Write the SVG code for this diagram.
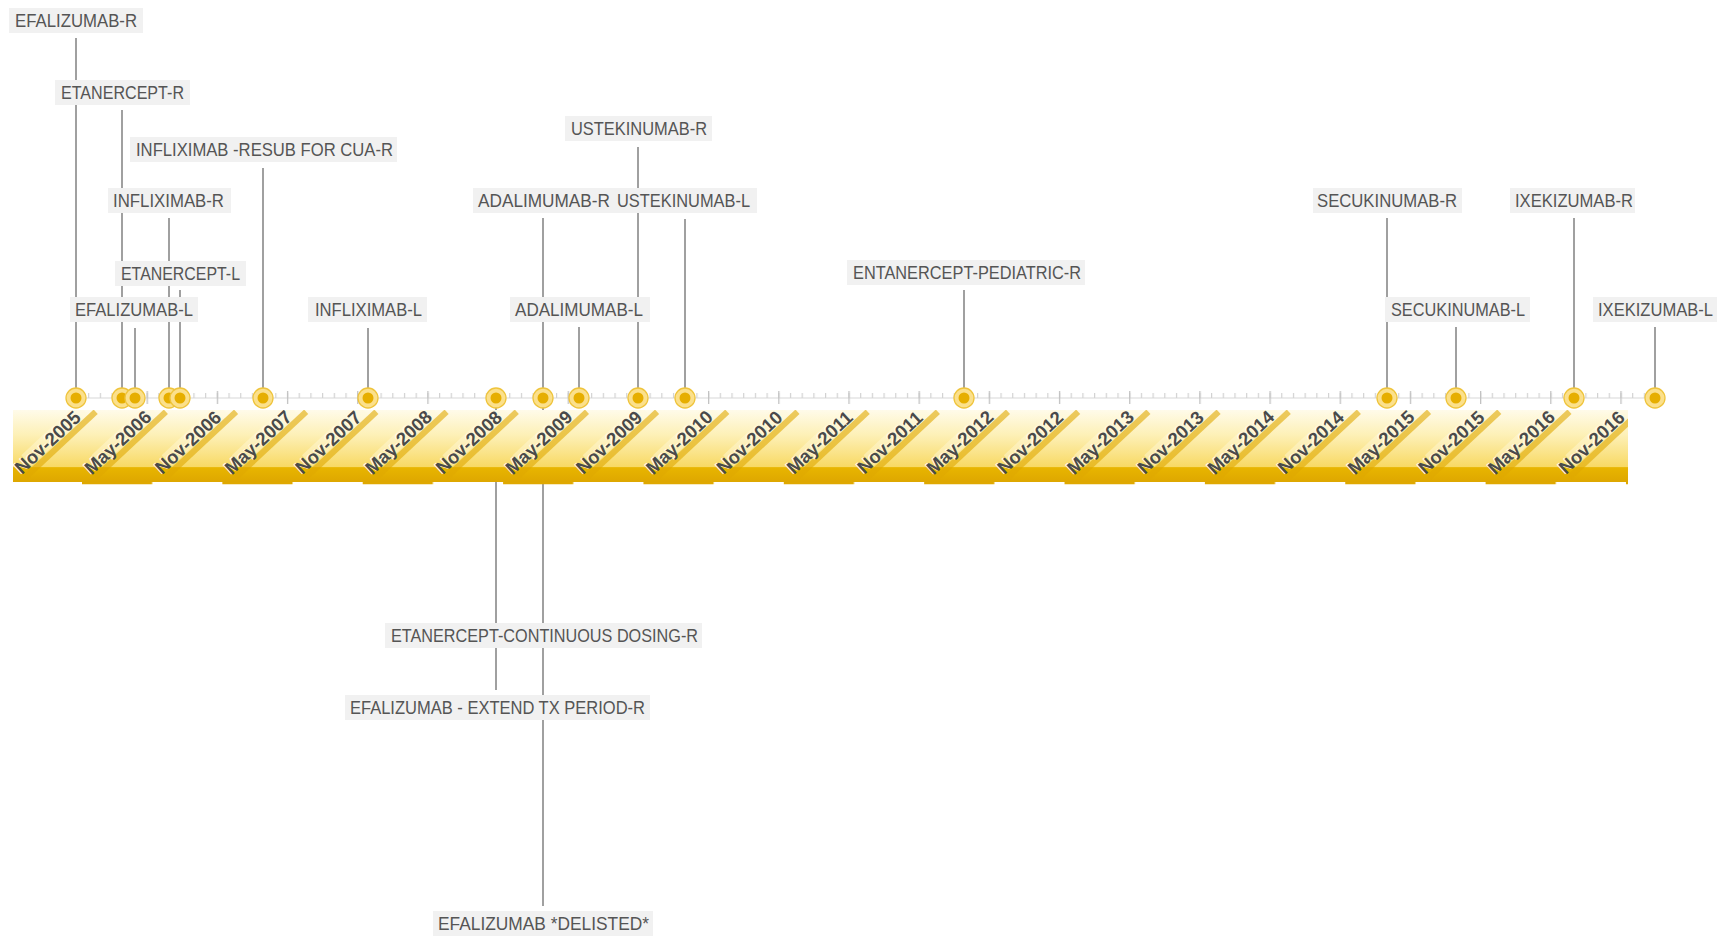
<svg xmlns="http://www.w3.org/2000/svg" width="1725" height="937" viewBox="0 0 1725 937">
<defs>
<linearGradient id="bandGrad" x1="0" y1="410" x2="0" y2="482" gradientUnits="userSpaceOnUse">
<stop offset="0" stop-color="#fffbea"/>
<stop offset="0.35" stop-color="#fdf0b6"/>
<stop offset="0.79" stop-color="#f8d964"/>
<stop offset="0.8" stop-color="#e8b500"/>
<stop offset="1" stop-color="#dea700"/>
</linearGradient>
<pattern id="stepPat" patternUnits="userSpaceOnUse" x="82" y="482" width="140.36" height="3">
<rect x="0" y="0" width="70.18" height="2.5" fill="#dfa800"/>
</pattern>
<pattern id="minorTick" patternUnits="userSpaceOnUse" x="76.4" y="0" width="11.697" height="10">
<rect x="0" y="0" width="1.2" height="10" fill="#d2d2d2"/>
</pattern>
<pattern id="majorTick" patternUnits="userSpaceOnUse" x="76.4" y="0" width="70.18" height="20">
<rect x="0" y="0" width="1.3" height="20" fill="#c2c2c2"/>
</pattern>
<clipPath id="bandClip"><rect x="13" y="410" width="1615" height="74"/></clipPath>
</defs>
<style>
.lbl rect{fill:#f1f1f1}
.lbl text{font-family:"Liberation Sans",Arial,sans-serif;font-size:17.5px;fill:#555555}
.conn line{stroke:#808080;stroke-width:1.5}
.dot .o{fill:#fbe08c;stroke:#efc43c;stroke-width:1.3}
.dot .i{fill:#e6ae00}
.dl .rib{fill:#e0a900;opacity:0.6}
.dl .hi{fill:#fff8dc;opacity:0.45}
.dl text{font-family:"Liberation Sans",Arial,sans-serif;font-size:18.5px;font-weight:bold;text-anchor:middle}
.dl .sh{fill:#fffbe8}
.dl .tx{fill:#4a4a4a}
</style>
<rect width="1725" height="937" fill="#ffffff"/>

<g id="connectors" class="conn">
<line x1="76" y1="38" x2="76" y2="398"/>
<line x1="122" y1="110" x2="122" y2="398"/>
<line x1="263" y1="168" x2="263" y2="398"/>
<line x1="169" y1="218" x2="169" y2="398"/>
<line x1="180" y1="290" x2="180" y2="398"/>
<line x1="135" y1="328" x2="135" y2="398"/>
<line x1="368" y1="328" x2="368" y2="398"/>
<line x1="638" y1="147" x2="638" y2="398"/>
<line x1="543" y1="218" x2="543" y2="398"/>
<line x1="685" y1="219" x2="685" y2="398"/>
<line x1="579" y1="327" x2="579" y2="398"/>
<line x1="964" y1="290" x2="964" y2="398"/>
<line x1="1387" y1="218" x2="1387" y2="398"/>
<line x1="1574" y1="218" x2="1574" y2="398"/>
<line x1="1456" y1="327" x2="1456" y2="398"/>
<line x1="1655" y1="327" x2="1655" y2="398"/>
<line x1="496" y1="398" x2="496" y2="690"/>
<line x1="543" y1="398" x2="543" y2="906"/>
</g>

<g id="band">
<rect x="13" y="410" width="1615" height="72" fill="url(#bandGrad)"/>
<rect x="13" y="482" width="1615" height="2.5" fill="url(#stepPat)"/>
</g>

<g id="axis">
<line x1="77" y1="398" x2="1655" y2="398" stroke="#d8d8d8" stroke-width="1.2"/>
<rect x="76" y="393" width="1581" height="5" fill="url(#minorTick)"/>
<rect x="76" y="391" width="1548" height="13" fill="url(#majorTick)"/>
</g>

<g id="date-labels" clip-path="url(#bandClip)">
<g class="dl" transform="translate(52,447) rotate(-43)"><rect class="hi" x="-28" y="-15" width="76" height="15"/><rect class="rib" x="-40" y="1" width="96" height="6"/><text class="sh" x="-1" y="-1">Nov-2005</text><text class="tx">Nov-2005</text></g>
<g class="dl" transform="translate(122.2,447) rotate(-43)"><rect class="hi" x="-28" y="-15" width="76" height="15"/><rect class="rib" x="-40" y="1" width="96" height="6"/><text class="sh" x="-1" y="-1">May-2006</text><text class="tx">May-2006</text></g>
<g class="dl" transform="translate(192.4,447) rotate(-43)"><rect class="hi" x="-28" y="-15" width="76" height="15"/><rect class="rib" x="-40" y="1" width="96" height="6"/><text class="sh" x="-1" y="-1">Nov-2006</text><text class="tx">Nov-2006</text></g>
<g class="dl" transform="translate(262.5,447) rotate(-43)"><rect class="hi" x="-28" y="-15" width="76" height="15"/><rect class="rib" x="-40" y="1" width="96" height="6"/><text class="sh" x="-1" y="-1">May-2007</text><text class="tx">May-2007</text></g>
<g class="dl" transform="translate(332.7,447) rotate(-43)"><rect class="hi" x="-28" y="-15" width="76" height="15"/><rect class="rib" x="-40" y="1" width="96" height="6"/><text class="sh" x="-1" y="-1">Nov-2007</text><text class="tx">Nov-2007</text></g>
<g class="dl" transform="translate(402.9,447) rotate(-43)"><rect class="hi" x="-28" y="-15" width="76" height="15"/><rect class="rib" x="-40" y="1" width="96" height="6"/><text class="sh" x="-1" y="-1">May-2008</text><text class="tx">May-2008</text></g>
<g class="dl" transform="translate(473.1,447) rotate(-43)"><rect class="hi" x="-28" y="-15" width="76" height="15"/><rect class="rib" x="-40" y="1" width="96" height="6"/><text class="sh" x="-1" y="-1">Nov-2008</text><text class="tx">Nov-2008</text></g>
<g class="dl" transform="translate(543.3,447) rotate(-43)"><rect class="hi" x="-28" y="-15" width="76" height="15"/><rect class="rib" x="-40" y="1" width="96" height="6"/><text class="sh" x="-1" y="-1">May-2009</text><text class="tx">May-2009</text></g>
<g class="dl" transform="translate(613.4,447) rotate(-43)"><rect class="hi" x="-28" y="-15" width="76" height="15"/><rect class="rib" x="-40" y="1" width="96" height="6"/><text class="sh" x="-1" y="-1">Nov-2009</text><text class="tx">Nov-2009</text></g>
<g class="dl" transform="translate(683.6,447) rotate(-43)"><rect class="hi" x="-28" y="-15" width="76" height="15"/><rect class="rib" x="-40" y="1" width="96" height="6"/><text class="sh" x="-1" y="-1">May-2010</text><text class="tx">May-2010</text></g>
<g class="dl" transform="translate(753.8,447) rotate(-43)"><rect class="hi" x="-28" y="-15" width="76" height="15"/><rect class="rib" x="-40" y="1" width="96" height="6"/><text class="sh" x="-1" y="-1">Nov-2010</text><text class="tx">Nov-2010</text></g>
<g class="dl" transform="translate(824,447) rotate(-43)"><rect class="hi" x="-28" y="-15" width="76" height="15"/><rect class="rib" x="-40" y="1" width="96" height="6"/><text class="sh" x="-1" y="-1">May-2011</text><text class="tx">May-2011</text></g>
<g class="dl" transform="translate(894.2,447) rotate(-43)"><rect class="hi" x="-28" y="-15" width="76" height="15"/><rect class="rib" x="-40" y="1" width="96" height="6"/><text class="sh" x="-1" y="-1">Nov-2011</text><text class="tx">Nov-2011</text></g>
<g class="dl" transform="translate(964.3,447) rotate(-43)"><rect class="hi" x="-28" y="-15" width="76" height="15"/><rect class="rib" x="-40" y="1" width="96" height="6"/><text class="sh" x="-1" y="-1">May-2012</text><text class="tx">May-2012</text></g>
<g class="dl" transform="translate(1034.5,447) rotate(-43)"><rect class="hi" x="-28" y="-15" width="76" height="15"/><rect class="rib" x="-40" y="1" width="96" height="6"/><text class="sh" x="-1" y="-1">Nov-2012</text><text class="tx">Nov-2012</text></g>
<g class="dl" transform="translate(1104.7,447) rotate(-43)"><rect class="hi" x="-28" y="-15" width="76" height="15"/><rect class="rib" x="-40" y="1" width="96" height="6"/><text class="sh" x="-1" y="-1">May-2013</text><text class="tx">May-2013</text></g>
<g class="dl" transform="translate(1174.9,447) rotate(-43)"><rect class="hi" x="-28" y="-15" width="76" height="15"/><rect class="rib" x="-40" y="1" width="96" height="6"/><text class="sh" x="-1" y="-1">Nov-2013</text><text class="tx">Nov-2013</text></g>
<g class="dl" transform="translate(1245.1,447) rotate(-43)"><rect class="hi" x="-28" y="-15" width="76" height="15"/><rect class="rib" x="-40" y="1" width="96" height="6"/><text class="sh" x="-1" y="-1">May-2014</text><text class="tx">May-2014</text></g>
<g class="dl" transform="translate(1315.2,447) rotate(-43)"><rect class="hi" x="-28" y="-15" width="76" height="15"/><rect class="rib" x="-40" y="1" width="96" height="6"/><text class="sh" x="-1" y="-1">Nov-2014</text><text class="tx">Nov-2014</text></g>
<g class="dl" transform="translate(1385.4,447) rotate(-43)"><rect class="hi" x="-28" y="-15" width="76" height="15"/><rect class="rib" x="-40" y="1" width="96" height="6"/><text class="sh" x="-1" y="-1">May-2015</text><text class="tx">May-2015</text></g>
<g class="dl" transform="translate(1455.6,447) rotate(-43)"><rect class="hi" x="-28" y="-15" width="76" height="15"/><rect class="rib" x="-40" y="1" width="96" height="6"/><text class="sh" x="-1" y="-1">Nov-2015</text><text class="tx">Nov-2015</text></g>
<g class="dl" transform="translate(1525.8,447) rotate(-43)"><rect class="hi" x="-28" y="-15" width="76" height="15"/><rect class="rib" x="-40" y="1" width="96" height="6"/><text class="sh" x="-1" y="-1">May-2016</text><text class="tx">May-2016</text></g>
<g class="dl" transform="translate(1596,447) rotate(-43)"><rect class="hi" x="-28" y="-15" width="76" height="15"/><rect class="rib" x="-40" y="1" width="96" height="6"/><text class="sh" x="-1" y="-1">Nov-2016</text><text class="tx">Nov-2016</text></g>
</g>

<g id="markers">
<g class="dot"><circle class="o" cx="76" cy="398" r="10"/><circle class="i" cx="76" cy="398" r="5.5"/></g>
<g class="dot"><circle class="o" cx="122" cy="398" r="10"/><circle class="i" cx="122" cy="398" r="5.5"/></g>
<g class="dot"><circle class="o" cx="135" cy="398" r="10"/><circle class="i" cx="135" cy="398" r="5.5"/></g>
<g class="dot"><circle class="o" cx="169" cy="398" r="10"/><circle class="i" cx="169" cy="398" r="5.5"/></g>
<g class="dot"><circle class="o" cx="180" cy="398" r="10"/><circle class="i" cx="180" cy="398" r="5.5"/></g>
<g class="dot"><circle class="o" cx="263" cy="398" r="10"/><circle class="i" cx="263" cy="398" r="5.5"/></g>
<g class="dot"><circle class="o" cx="368" cy="398" r="10"/><circle class="i" cx="368" cy="398" r="5.5"/></g>
<g class="dot"><circle class="o" cx="496" cy="398" r="10"/><circle class="i" cx="496" cy="398" r="5.5"/></g>
<g class="dot"><circle class="o" cx="543" cy="398" r="10"/><circle class="i" cx="543" cy="398" r="5.5"/></g>
<g class="dot"><circle class="o" cx="579" cy="398" r="10"/><circle class="i" cx="579" cy="398" r="5.5"/></g>
<g class="dot"><circle class="o" cx="638" cy="398" r="10"/><circle class="i" cx="638" cy="398" r="5.5"/></g>
<g class="dot"><circle class="o" cx="685" cy="398" r="10"/><circle class="i" cx="685" cy="398" r="5.5"/></g>
<g class="dot"><circle class="o" cx="964" cy="398" r="10"/><circle class="i" cx="964" cy="398" r="5.5"/></g>
<g class="dot"><circle class="o" cx="1387" cy="398" r="10"/><circle class="i" cx="1387" cy="398" r="5.5"/></g>
<g class="dot"><circle class="o" cx="1456" cy="398" r="10"/><circle class="i" cx="1456" cy="398" r="5.5"/></g>
<g class="dot"><circle class="o" cx="1574" cy="398" r="10"/><circle class="i" cx="1574" cy="398" r="5.5"/></g>
<g class="dot"><circle class="o" cx="1655" cy="398" r="10"/><circle class="i" cx="1655" cy="398" r="5.5"/></g>
</g>

<g id="n-efalizumab-r" class="lbl"><rect x="9" y="8" width="134" height="25"/><text x="15" y="27" textLength="122" lengthAdjust="spacingAndGlyphs">EFALIZUMAB-R</text></g>
<g id="n-etanercept-r" class="lbl"><rect x="55" y="80" width="135" height="25"/><text x="61" y="99" textLength="123" lengthAdjust="spacingAndGlyphs">ETANERCEPT-R</text></g>
<g id="n-infliximab-resub" class="lbl"><rect x="130" y="137" width="267" height="25"/><text x="136" y="156" textLength="257" lengthAdjust="spacingAndGlyphs">INFLIXIMAB -RESUB FOR CUA-R</text></g>
<g id="n-infliximab-r" class="lbl"><rect x="108" y="188" width="123" height="25"/><text x="113" y="207" textLength="111" lengthAdjust="spacingAndGlyphs">INFLIXIMAB-R</text></g>
<g id="n-etanercept-l" class="lbl"><rect x="115" y="261" width="131" height="25"/><text x="121" y="280" textLength="119" lengthAdjust="spacingAndGlyphs">ETANERCEPT-L</text></g>
<g id="n-efalizumab-l" class="lbl"><rect x="70" y="297" width="128" height="25"/><text x="75" y="316" textLength="118" lengthAdjust="spacingAndGlyphs">EFALIZUMAB-L</text></g>
<g id="n-infliximab-l" class="lbl"><rect x="308" y="297" width="119" height="25"/><text x="315" y="316" textLength="107" lengthAdjust="spacingAndGlyphs">INFLIXIMAB-L</text></g>
<g id="n-ustekinumab-r" class="lbl"><rect x="565" y="116" width="147" height="25"/><text x="571" y="135" textLength="136" lengthAdjust="spacingAndGlyphs">USTEKINUMAB-R</text></g>
<g id="n-adalimumab-r" class="lbl"><rect x="473" y="188" width="142" height="25"/><text x="478" y="207" textLength="132" lengthAdjust="spacingAndGlyphs">ADALIMUMAB-R</text></g>
<g id="n-ustekinumab-l" class="lbl"><rect x="612" y="188" width="145" height="25"/><text x="617" y="207" textLength="133" lengthAdjust="spacingAndGlyphs">USTEKINUMAB-L</text></g>
<g id="n-adalimumab-l" class="lbl"><rect x="510" y="297" width="140" height="25"/><text x="515" y="316" textLength="128" lengthAdjust="spacingAndGlyphs">ADALIMUMAB-L</text></g>
<g id="n-entanercept-pediatric-r" class="lbl"><rect x="847" y="260" width="238" height="25"/><text x="853" y="279" textLength="228" lengthAdjust="spacingAndGlyphs">ENTANERCEPT-PEDIATRIC-R</text></g>
<g id="n-secukinumab-r" class="lbl"><rect x="1313" y="188" width="149" height="25"/><text x="1317" y="207" textLength="140" lengthAdjust="spacingAndGlyphs">SECUKINUMAB-R</text></g>
<g id="n-ixekizumab-r" class="lbl"><rect x="1510" y="188" width="125" height="25"/><text x="1515" y="207" textLength="118" lengthAdjust="spacingAndGlyphs">IXEKIZUMAB-R</text></g>
<g id="n-secukinumab-l" class="lbl"><rect x="1385" y="297" width="145" height="25"/><text x="1391" y="316" textLength="134" lengthAdjust="spacingAndGlyphs">SECUKINUMAB-L</text></g>
<g id="n-ixekizumab-l" class="lbl"><rect x="1593" y="297" width="124" height="25"/><text x="1598" y="316" textLength="115" lengthAdjust="spacingAndGlyphs">IXEKIZUMAB-L</text></g>
<g id="n-etanercept-continuous" class="lbl"><rect x="385" y="623" width="317" height="25"/><text x="391" y="642" textLength="307" lengthAdjust="spacingAndGlyphs">ETANERCEPT-CONTINUOUS DOSING-R</text></g>
<g id="n-efalizumab-extend" class="lbl"><rect x="345" y="695" width="305" height="25"/><text x="350" y="714" textLength="295" lengthAdjust="spacingAndGlyphs">EFALIZUMAB - EXTEND TX PERIOD-R</text></g>
<g id="n-efalizumab-delisted" class="lbl"><rect x="433" y="911" width="220" height="25"/><text x="438" y="930" textLength="211" lengthAdjust="spacingAndGlyphs">EFALIZUMAB *DELISTED*</text></g>
</svg>
